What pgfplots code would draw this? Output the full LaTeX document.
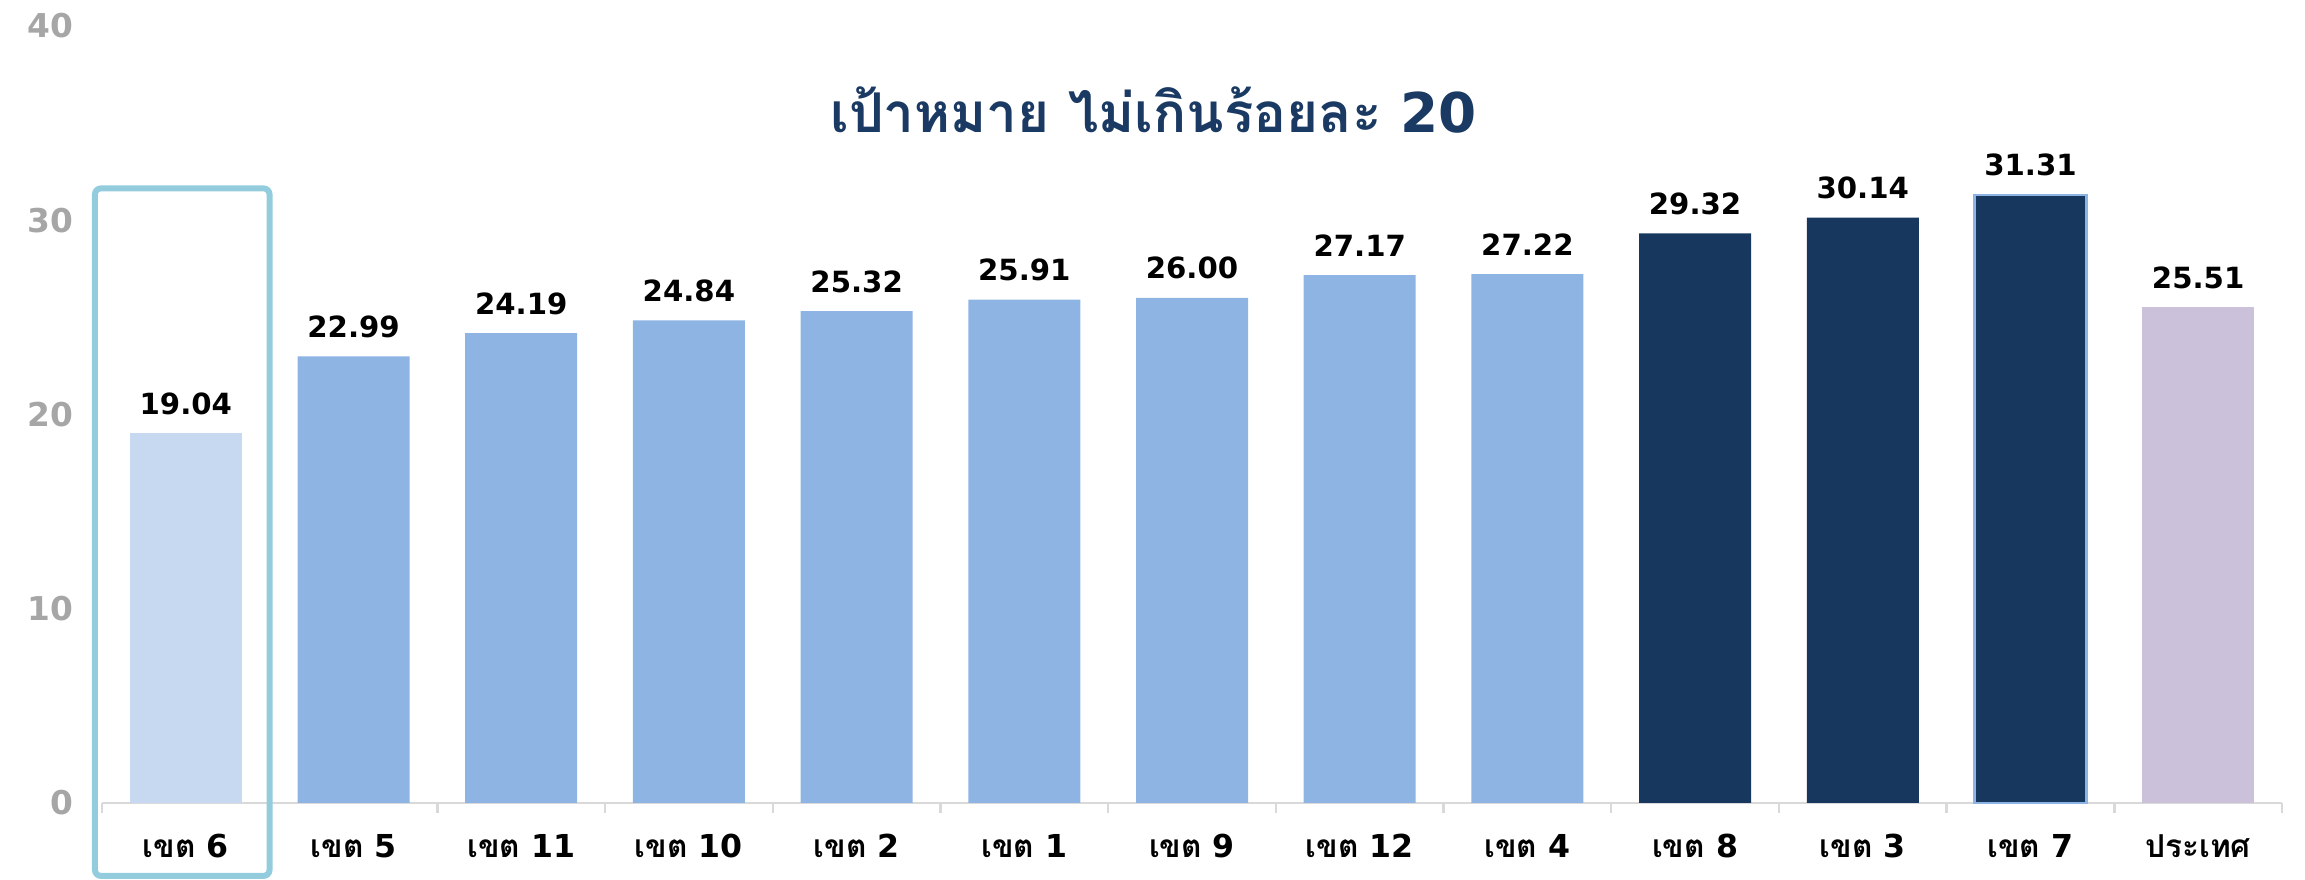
\documentclass[border=0pt]{standalone}
\usepackage{pgfplots}
\pgfplotsset{compat=1.18}
\usepackage{fontspec}
\setmainfont{DejaVu Sans}
\newfontfamily\thai[Script=Thai, Scale=1.0]{Loma}
\definecolor{lightb}{HTML}{C6D9F1}
\definecolor{medb}{HTML}{8EB4E3}
\definecolor{navyb}{HTML}{17375E}
\definecolor{purb}{HTML}{CCC1DA}
\definecolor{boxcol}{HTML}{93CDDD}
\definecolor{axisgray}{HTML}{D9D9D9}
\definecolor{tickgray}{HTML}{A6A6A6}
\definecolor{titlecol}{HTML}{1B3A63}
\begin{document}
\begin{tikzpicture}
\begin{axis}[
  width=545pt, height=194.25pt, scale only axis,
  xmin=-0.5, xmax=12.5, ymin=0, ymax=40,
  clip=false,
  axis x line=bottom, axis y line=left,
  x axis line style={-, draw=axisgray, line width=0.6pt},
  y axis line style={draw=none},
  xtick={0,...,12},
  xticklabels={{\thai เขต} 6,{\thai เขต} 5,{\thai เขต} 11,{\thai เขต} 10,{\thai เขต} 2,{\thai เขต} 1,{\thai เขต} 9,{\thai เขต} 12,{\thai เขต} 4,{\thai เขต} 8,{\thai เขต} 3,{\thai เขต} 7,{\thai ประเทศ}},
  major x tick style={draw=none},
  minor xtick={-0.5,0.5,...,12.5},
  minor x tick style={draw=axisgray, line width=0.6pt},
  minor tick length=2.5pt,
  tick align=outside,
  ytick={0,10,20,30,40},
  major y tick style={draw=none},
  major tick length=0pt,
  xticklabel style={font=\bfseries\fontsize{7.9}{9}\selectfont, text=black, anchor=base, yshift=-13.75pt},
  yticklabel style={font=\bfseries\fontsize{8.2}{10}\selectfont, text=tickgray, xshift=-3.75pt},
  /pgf/number format/assume math mode=true,
  ybar, bar width=28pt, bar shift=0pt,
  nodes near coords={\pgfmathprintnumber[fixed,fixed zerofill,precision=2,assume math mode=true]{\pgfplotspointmeta}},
  every node near coord/.append style={font=\bfseries\fontsize{7.3}{9}\selectfont, text=black, anchor=base, inner sep=0pt, yshift=4.75pt},
]
\addplot[fill=lightb, draw=none] coordinates {(0,19.04)};
\addplot[fill=medb, draw=none] coordinates {(1,22.99) (2,24.19) (3,24.84) (4,25.32) (5,25.91) (6,26.00) (7,27.17) (8,27.22)};
\addplot[fill=navyb, draw=none] coordinates {(9,29.32) (10,30.14)};
\addplot[fill=navyb, draw=medb, line width=0.6pt] coordinates {(11,31.31)};
\addplot[fill=purb, draw=none] coordinates {(12,25.51)};
\draw[boxcol, line width=1.5pt, rounded corners=1.5pt] (axis cs:-0.542,31.64) rectangle (axis cs:0.499,-3.755);
\node[font=\bfseries\fontsize{13.7}{15}\selectfont, text=titlecol, anchor=base, inner sep=0pt] at (axis cs:5.771,34.54) {{\thai เป้าหมาย ไม่เกินร้อยละ} 20};
\end{axis}
\pgfresetboundingbox
\path ([xshift=-25.5pt,yshift=-19.25pt]current axis.south west) rectangle ([xshift=5.75pt,yshift=6.5pt]current axis.north east);
\end{tikzpicture}
\end{document}
